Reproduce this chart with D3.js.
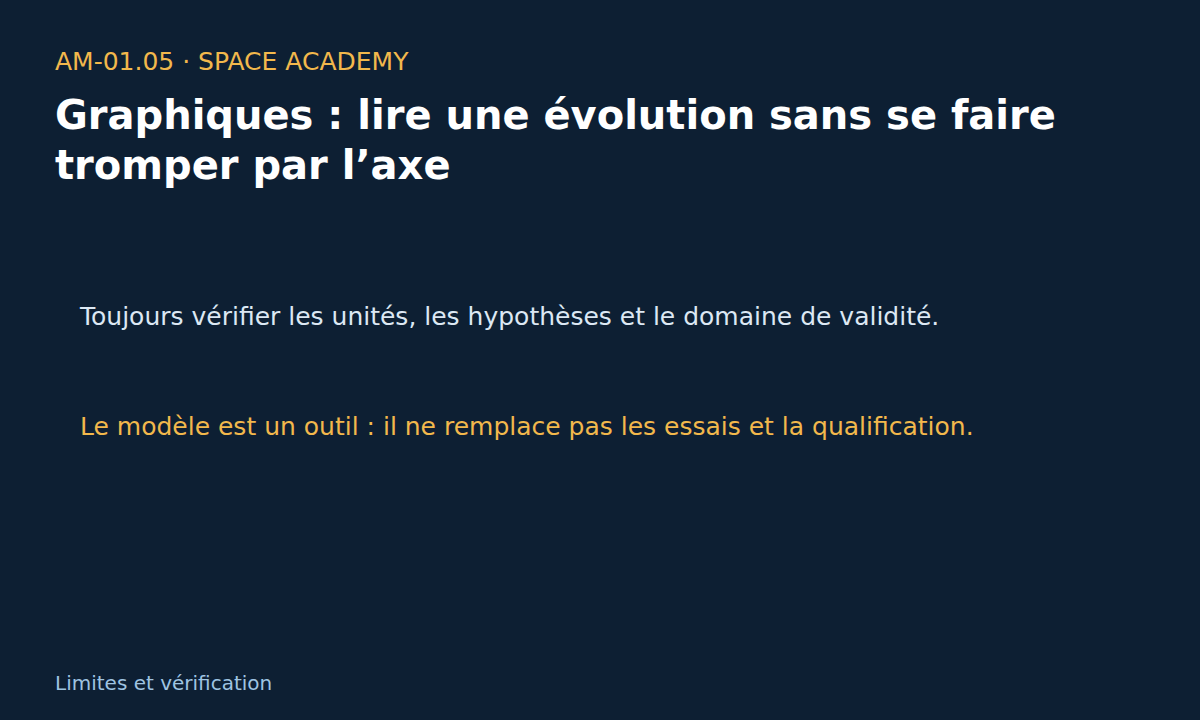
<!DOCTYPE html>
<html>
<head>
<meta charset="utf-8">
<script src="https://cdn.jsdelivr.net/npm/d3@7"></script>
<style>
  html, body { margin: 0; padding: 0; background: #0d1f33; }
  svg { display: block; }
</style>
</head>
<body>
<svg id="slide"></svg>
<script>
// Textes de la diapositive
const kicker = 'AM-01.05 · SPACE ACADEMY';
const titleLines = ['Graphiques : lire une évolution sans se faire', 'tromper par l’axe'];
const points = [
  'Toujours vérifier les unités, les hypothèses et le domaine de validité.',
  'Le modèle est un outil : il ne remplace pas les essais et la qualification.'
];
const pointColors = ['#dce8f4', '#f2b84c'];
const footer = 'Limites et vérification';

const width = 1200;
const height = 720;
const font = 'DejaVu Sans, sans-serif';

const svg = d3.select('#slide')
  .attr('width', width)
  .attr('height', height);

svg.append('rect')
  .attr('width', width)
  .attr('height', height)
  .attr('fill', '#0d1f33');

// Sur-titre
svg.append('text')
  .attr('x', 55)
  .attr('y', 70)
  .attr('font-family', font)
  .attr('font-size', 25)
  .attr('fill', '#f2b84c')
  .text(kicker);

// Titre sur deux lignes
svg.selectAll('text.title')
  .data(titleLines)
  .enter()
  .append('text')
  .attr('class', 'title')
  .attr('x', 55)
  .attr('y', (d, i) => 129 + i * 50)
  .attr('font-family', font)
  .attr('font-size', 40)
  .attr('font-weight', 'bold')
  .attr('fill', '#ffffff')
  .text(d => d);

// Points clés
const yPoints = d3.scalePoint()
  .domain(d3.range(points.length))
  .range([325, 435]);

svg.selectAll('text.point')
  .data(points)
  .enter()
  .append('text')
  .attr('class', 'point')
  .attr('x', 80)
  .attr('y', (d, i) => yPoints(i))
  .attr('font-family', font)
  .attr('font-size', 25)
  .attr('fill', (d, i) => pointColors[i % pointColors.length])
  .text(d => d);

// Pied de page
svg.append('text')
  .attr('x', 55)
  .attr('y', 690)
  .attr('font-family', font)
  .attr('font-size', 20)
  .attr('fill', '#9fc4e2')
  .text(footer);
</script>
</body>
</html>
